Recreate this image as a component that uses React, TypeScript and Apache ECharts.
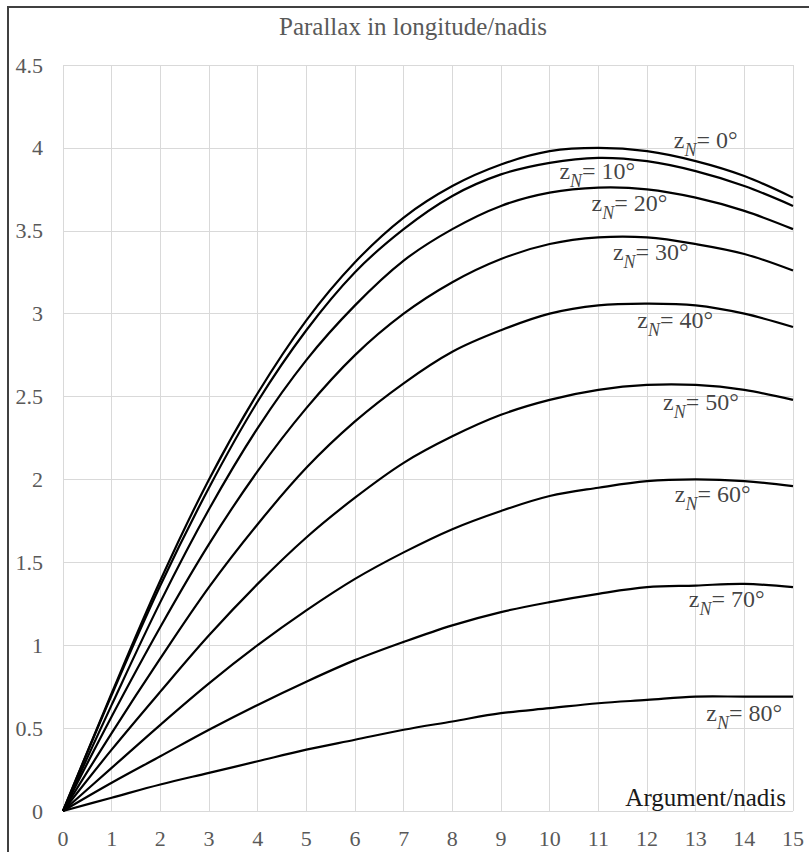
import React, { useEffect, useRef } from "react";
import * as echarts from "echarts";

// Argument in nadis (x) and the zenith distances of the nonagesimal
const argument = [0, 1, 2, 3, 4, 5, 6, 7, 8, 9, 10, 11, 12, 13, 14, 15];
const zN = [0, 10, 20, 30, 40, 50, 60, 70, 80];

// Parallax in longitude (nadis), one array per z_N
const p0 = [0, 0.71, 1.39, 2.0, 2.52, 2.96, 3.31, 3.58, 3.77, 3.9, 3.98, 4.0, 3.98, 3.92, 3.83, 3.7];
const p10 = [0, 0.7, 1.36, 1.95, 2.47, 2.9, 3.25, 3.51, 3.71, 3.84, 3.91, 3.94, 3.92, 3.86, 3.77, 3.65];
const p20 = [0, 0.64, 1.26, 1.82, 2.31, 2.72, 3.05, 3.32, 3.51, 3.65, 3.73, 3.76, 3.75, 3.7, 3.62, 3.51];
const p30 = [0, 0.57, 1.11, 1.61, 2.05, 2.43, 2.75, 3.0, 3.19, 3.33, 3.42, 3.46, 3.46, 3.42, 3.36, 3.26];
const p40 = [0, 0.47, 0.92, 1.35, 1.73, 2.07, 2.35, 2.58, 2.77, 2.9, 3.0, 3.05, 3.06, 3.05, 3.0, 2.92];
const p50 = [0, 0.37, 0.72, 1.06, 1.37, 1.65, 1.89, 2.1, 2.26, 2.39, 2.48, 2.54, 2.57, 2.57, 2.54, 2.48];
const p60 = [0, 0.26, 0.52, 0.77, 1.0, 1.21, 1.4, 1.56, 1.7, 1.81, 1.9, 1.95, 1.99, 2.0, 1.99, 1.96];
const p70 = [0, 0.17, 0.33, 0.49, 0.64, 0.78, 0.91, 1.02, 1.12, 1.2, 1.26, 1.31, 1.35, 1.36, 1.37, 1.35];
const p80 = [0, 0.08, 0.16, 0.23, 0.3, 0.37, 0.43, 0.49, 0.54, 0.59, 0.62, 0.65, 0.67, 0.69, 0.69, 0.69];
const parallax = [p0, p10, p20, p30, p40, p50, p60, p70, p80];

// Where each curve label sits (data coordinates: left edge x, middle y)
const labelX = [12.55, 10.2, 10.86, 11.3, 11.8, 12.33, 12.57, 12.86, 13.22];
const labelY = [4.05, 3.86, 3.67, 3.37, 2.96, 2.47, 1.91, 1.28, 0.59];

const titleText = "Parallax in longitude/nadis";
const xName = "Argument/nadis";

const SERIF = "'Liberation Serif', 'Times New Roman', serif";

export default function App() {
  const ref = useRef<HTMLDivElement>(null);

  useEffect(() => {
    document.body.style.margin = "0";
    if (!ref.current) return;
    const chart = echarts.init(ref.current, undefined, { renderer: "svg" });

    // Smooth curves drawn through the data points via the axes' own coordinate mapping
    const curveSeries = {
      type: "custom",
      coordinateSystem: "cartesian2d",
      silent: true,
      data: zN.map((z, i) => [argument[argument.length - 1], parallax[i][argument.length - 1]]),
      renderItem: (params: any, api: any) => {
        const vals = parallax[params.dataIndex];
        const pts = argument.map((x, j) => api.coord([x, vals[j]]));
        return {
          type: "polyline",
          shape: { points: pts, smooth: 0.35 },
          style: { stroke: "#000", lineWidth: 2.2, fill: "none" },
        };
      },
      z: 3,
    };

    const labelSeries = {
      type: "scatter",
      symbolSize: 0,
      silent: true,
      data: zN.map((z, i) => ({
        value: [labelX[i], labelY[i]],
        name: String(z),
      })),
      label: {
        show: true,
        position: [0, 0],
        align: "left",
        verticalAlign: "middle",
        formatter: (p: any) => `{z|z}{n|N}{t|= ${p.name}°}`,
        rich: {
          z: { fontFamily: SERIF, fontSize: 24, lineHeight: 24, color: "#111" },
          n: {
            fontFamily: SERIF,
            fontSize: 18,
            lineHeight: 18,
            fontStyle: "italic",
            color: "#111",
            padding: [20, 0, 0, 0],
          },
          t: { fontFamily: SERIF, fontSize: 24, lineHeight: 24, color: "#111" },
        },
      },
      z: 4,
    };

    chart.setOption({
      animation: false,
      backgroundColor: "#fff",
      title: {
        text: titleText,
        left: 274,
        top: 9,
        textStyle: {
          fontFamily: SERIF,
          fontSize: 25,
          fontWeight: "normal",
          color: "#595959",
        },
      },
      grid: { left: 63, right: 16, top: 65, bottom: 41, containLabel: false },
      xAxis: {
        type: "value",
        min: 0,
        max: 15,
        interval: 1,
        axisLine: { show: false },
        axisTick: { show: false },
        axisLabel: {
          margin: 16,
          fontFamily: SERIF,
          fontSize: 22,
          color: "#595959",
        },
        splitLine: { show: true, lineStyle: { color: "#d9d9d9", width: 1 } },
      },
      yAxis: {
        type: "value",
        min: 0,
        max: 4.5,
        interval: 0.5,
        axisLine: { show: false },
        axisTick: { show: false },
        axisLabel: {
          margin: 20,
          fontFamily: SERIF,
          fontSize: 22,
          color: "#595959",
        },
        splitLine: { show: true, lineStyle: { color: "#d9d9d9", width: 1 } },
      },
      graphic: [
        {
          type: "rect",
          shape: { x: 8, y: 7, width: 1200, height: 1200 },
          style: { fill: "none", stroke: "#404040", lineWidth: 2 },
          silent: true,
          z: 10,
        },
        {
          type: "text",
          right: 23,
          top: 785,
          style: {
            text: xName,
            fontFamily: SERIF,
            fontSize: 25,
            fill: "#1a1a1a",
          },
          silent: true,
          z: 10,
        },
      ],
      series: [curveSeries, labelSeries],
    });

    return () => chart.dispose();
  }, []);

  return <div ref={ref} style={{ width: 809, height: 852 }} />;
}
